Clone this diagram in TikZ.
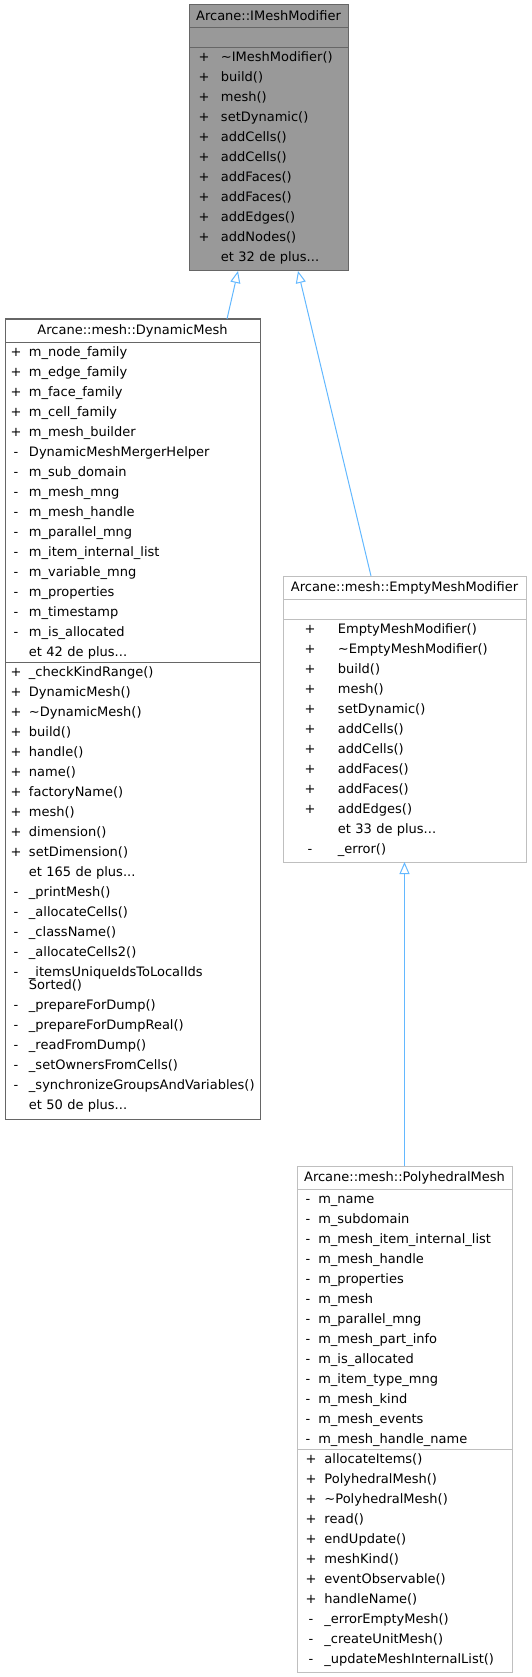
\documentclass[tikz,border=0pt]{standalone}
\usepackage{fontspec}
\setmainfont{DejaVu Sans}
\usetikzlibrary{arrows.meta}
\usetikzlibrary{positioning}
\definecolor{edgeblue}{HTML}{63B8FF}
\definecolor{darkborder}{HTML}{666666}
\definecolor{lightborder}{HTML}{BFBFBF}
\definecolor{basefill}{HTML}{999999}
\newcommand{\umlfont}{\fontsize{13pt}{20pt}\selectfont}
\newenvironment{memberlist}[2]{\begin{tabular}{@{\hspace{#1}}c@{\hspace{#2}}l@{}}}{\end{tabular}}
\tikzset{part/.style = {draw, line width = 1pt, outer sep = 0, inner sep = 0, text width = #1, align = left, font = \umlfont}}
\tikzset{head/.style = {part = #1, minimum height = 23pt, align = center, execute at begin node = \strut}}
\tikzset{blank/.style = {part = #1, minimum height = 20pt}}
\tikzset{inherit/.style = {draw = edgeblue, line width = 1pt, -{Triangle[open, length = 12pt, width = 10pt]}}}

\begin{document}
\begin{tikzpicture}[x = 1pt, y = -1pt]
  \useasboundingbox (0, 0) rectangle (531, 1677);

  % Arcane::IMeshModifier
  \node [head = 159pt, fill = basefill, draw = darkborder, anchor = north west] (baseHead) at (189, 5) {Arcane::IMeshModifier};
  \node [blank = 159pt, fill = basefill, draw = darkborder, below = 0pt of baseHead] (baseAttr) {};
  \node [part = 159pt, fill = basefill, draw = darkborder, below = 0pt of baseAttr] (baseOps) {%
    \begin{memberlist}{9.55pt}{11.55pt}
      + & \textasciitilde IMeshModifier()\\
      + & build()\\
      + & mesh()\\
      + & setDynamic()\\
      + & addCells()\\
      + & addCells()\\
      + & addFaces()\\
      + & addFaces()\\
      + & addEdges()\\
      + & addNodes()\\
        & et 32 de plus...\\[3pt]
    \end{memberlist}};

  % Arcane::mesh::DynamicMesh
  \node [head = 255pt, draw = darkborder, anchor = north west] (dynHead) at (5, 319) {Arcane::mesh::DynamicMesh};
  \node [part = 255pt, draw = darkborder, below = 0pt of dynHead] (dynAttr) {%
    \begin{memberlist}{5.55pt}{7.55pt}
      + & m\_node\_family\\
      + & m\_edge\_family\\
      + & m\_face\_family\\
      + & m\_cell\_family\\
      + & m\_mesh\_builder\\
      - & DynamicMeshMergerHelper\\
      - & m\_sub\_domain\\
      - & m\_mesh\_mng\\
      - & m\_mesh\_handle\\
      - & m\_parallel\_mng\\
      - & m\_item\_internal\_list\\
      - & m\_variable\_mng\\
      - & m\_properties\\
      - & m\_timestamp\\
      - & m\_is\_allocated\\
        & et 42 de plus...\\
    \end{memberlist}};
  \node [part = 255pt, draw = darkborder, below = 0pt of dynAttr] (dynOps) {%
    \begin{memberlist}{5.55pt}{7.55pt}
      + & \_checkKindRange()\\
      + & DynamicMesh()\\
      + & \textasciitilde DynamicMesh()\\
      + & build()\\
      + & handle()\\
      + & name()\\
      + & factoryName()\\
      + & mesh()\\
      + & dimension()\\
      + & setDimension()\\
        & et 165 de plus...\\
      - & \_printMesh()\\
      - & \_allocateCells()\\
      - & \_className()\\
      - & \_allocateCells2()\\
      - & \_itemsUniqueIdsToLocalIds\\ \noalign{\vskip -6.7pt}
        & Sorted()\\
      - & \_prepareForDump()\\
      - & \_prepareForDumpReal()\\
      - & \_readFromDump()\\
      - & \_setOwnersFromCells()\\
      - & \_synchronizeGroupsAndVariables()\\
        & et 50 de plus...\\[4pt]
    \end{memberlist}};

  % Arcane::mesh::EmptyMeshModifier
  \node [head = 243pt, draw = lightborder, anchor = north west] (emptyHead) at (283, 576) {Arcane::mesh::EmptyMeshModifier};
  \node [blank = 243pt, draw = lightborder, below = 0pt of emptyHead] (emptyAttr) {};
  \node [part = 243pt, draw = lightborder, below = 0pt of emptyAttr] (emptyOps) {%
    \begin{memberlist}{21.55pt}{22.55pt}
      + & EmptyMeshModifier()\\
      + & \textasciitilde EmptyMeshModifier()\\
      + & build()\\
      + & mesh()\\
      + & setDynamic()\\
      + & addCells()\\
      + & addCells()\\
      + & addFaces()\\
      + & addFaces()\\
      + & addEdges()\\
        & et 33 de plus...\\
      - & \_error()\\[3pt]
    \end{memberlist}};

  % Arcane::mesh::PolyhedralMesh
  \node [head = 215pt, draw = lightborder, anchor = north west] (polyHead) at (297, 1166) {Arcane::mesh::PolyhedralMesh};
  \node [part = 215pt, draw = lightborder, below = 0pt of polyHead] (polyAttr) {%
    \begin{memberlist}{8.55pt}{8.05pt}
      - & m\_name\\
      - & m\_subdomain\\
      - & m\_mesh\_item\_internal\_list\\
      - & m\_mesh\_handle\\
      - & m\_properties\\
      - & m\_mesh\\
      - & m\_parallel\_mng\\
      - & m\_mesh\_part\_info\\
      - & m\_is\_allocated\\
      - & m\_item\_type\_mng\\
      - & m\_mesh\_kind\\
      - & m\_mesh\_events\\
      - & m\_mesh\_handle\_name\\
    \end{memberlist}};
  \node [part = 215pt, draw = lightborder, below = 0pt of polyAttr] (polyOps) {%
    \begin{memberlist}{8.55pt}{8.05pt}
      + & allocateItems()\\
      + & PolyhedralMesh()\\
      + & \textasciitilde PolyhedralMesh()\\
      + & read()\\
      + & endUpdate()\\
      + & meshKind()\\
      + & eventObservable()\\
      + & handleName()\\
      - & \_errorEmptyMesh()\\
      - & \_createUnitMesh()\\
      - & \_updateMeshInternalList()\\[3pt]
    \end{memberlist}};

  % inheritance
  \draw [inherit] ([xshift = 94.5pt]dynHead.north) -- ([xshift = -30.5pt]baseOps.south);
  \draw [inherit] ([xshift = -33.5pt]emptyHead.north) -- ([xshift = 29.5pt]baseOps.south);
  \draw [inherit] (polyHead.north) -- (emptyOps.south);
\end{tikzpicture}
\end{document}
